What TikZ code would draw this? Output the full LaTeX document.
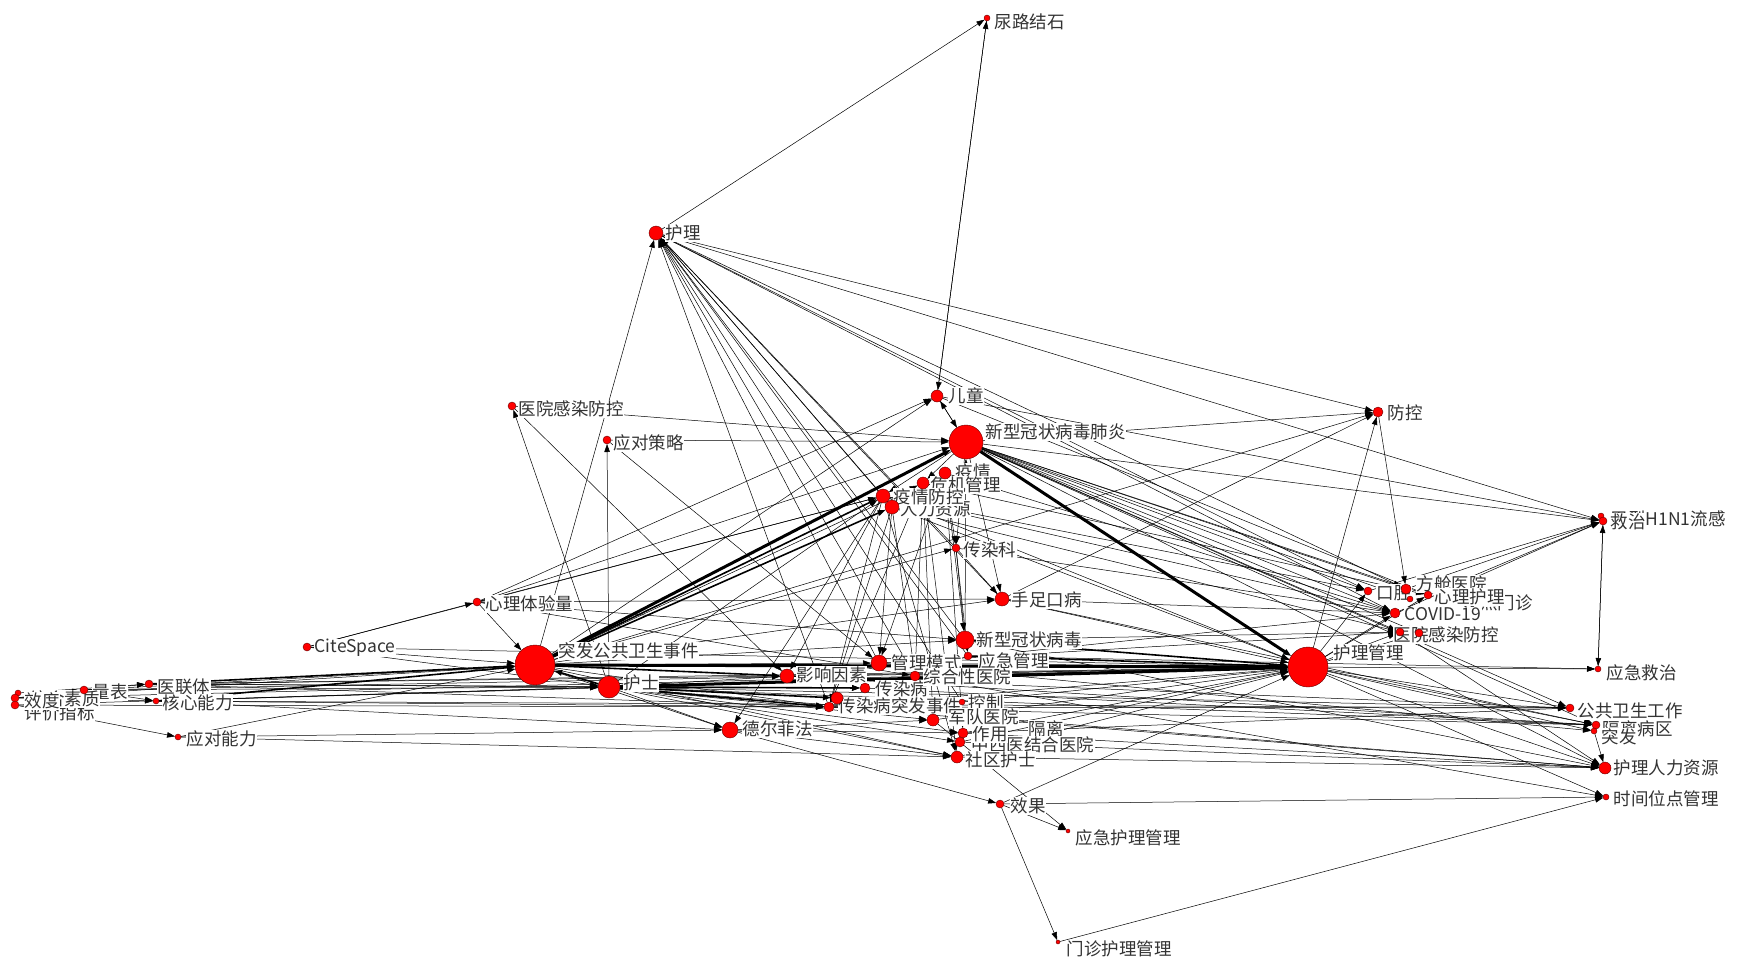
\documentclass[tikz,border=0pt]{standalone}
\usepackage{fontspec}
\setmainfont{Noto Sans CJK SC}
\usetikzlibrary{arrows.meta}
\tikzset{
  v/.style={circle,inner sep=0pt,outer sep=0pt,minimum size=#1},
  ed/.style={-{Triangle[length=8pt,width=5.5pt]},line width=0.5pt,black},
  edb/.style={ed,line width=1.6pt},
  edbb/.style={ed,line width=3pt},
  lab/.style={anchor=west,fill=white,inner sep=0.6pt,text=black!80,font=\fontsize{17.5}{19}\selectfont},
  dotc/.style={fill=red,draw=red!40!black,line width=0.4pt}
}
\begin{document}
\begin{tikzpicture}[x=1pt,y=-1pt]
\fill[white] (0,0) rectangle (1738,969);
\useasboundingbox (0,0) rectangle (1738,969);
% nodes (positions)
\node[v=6pt]  (n1)  at (987,18) {};
\node[v=14pt] (n2)  at (656,233) {};
\node[v=12pt] (n3)  at (937,396) {};
\node[v=34pt] (n4)  at (966,442) {};
\node[v=10pt] (n5)  at (1378,412) {};
\node[v=8pt]  (n6)  at (512,406) {};
\node[v=8pt]  (n7)  at (607,440) {};
\node[v=12pt] (n8)  at (945,473) {};
\node[v=12pt] (n9)  at (923,483) {};
\node[v=14pt] (n10) at (883,496) {};
\node[v=14pt] (n11) at (892,507) {};
\node[v=8pt]  (n12) at (956,548) {};
\node[v=14pt] (n13) at (1002,599) {};
\node[v=18pt] (n14) at (965,640) {};
\node[v=8pt]  (n15) at (477,602) {};
\node[v=8pt]  (n16) at (307,647) {};
\node[v=40pt] (n17) at (535,665) {};
\node[v=22pt] (n18) at (609,687) {};
\node[v=14pt] (n19) at (787,676) {};
\node[v=16pt] (n20) at (879,663) {};
\node[v=8pt]  (n21) at (968,656) {};
\node[v=10pt] (n22) at (915,676) {};
\node[v=10pt] (n23) at (865,688) {};
\node[v=12pt] (n24) at (837,698) {};
\node[v=10pt] (n25) at (829,707) {};
\node[v=6pt]  (n26) at (962,702) {};
\node[v=12pt] (n27) at (933,720) {};
\node[v=10pt] (n28) at (963,733) {};
\node[v=10pt] (n29) at (960,742) {};
\node[v=12pt] (n30) at (957,757) {};
\node[v=16pt] (n31) at (730,730) {};
\node[v=8pt]  (n32) at (149,684) {};
\node[v=8pt]  (n33) at (84,690) {};
\node[v=6pt]  (n34) at (156,701) {};
\node[v=8pt]  (n35a) at (15,698) {};
\node[v=8pt]  (n35b) at (15,705) {};
\node[v=6pt]  (n35c) at (18,693) {};
\node[v=6pt]  (n36) at (178,737) {};
\node[v=40pt] (n37) at (1308,667) {};
\node[v=8pt]  (n38) at (1368,591) {};
\node[v=10pt] (n39) at (1406,589) {};
\node[v=6pt]  (n40) at (1410,599) {};
\node[v=8pt]  (n41) at (1428,595) {};
\node[v=10pt] (n42) at (1395,613) {};
\node[v=8pt]  (n43) at (1400,632) {};
\node[v=8pt]  (n44) at (1419,633) {};
\node[v=8pt]  (n45) at (1603,521) {};
\node[v=6pt]  (n45b) at (1601,516) {};
\node[v=6pt]  (n46) at (1598,669) {};
\node[v=8pt]  (n47) at (1570,708) {};
\node[v=8pt]  (n48) at (1596,725) {};
\node[v=6pt]  (n49) at (1594,731) {};
\node[v=12pt] (n50) at (1605,768) {};
\node[v=6pt]  (n51) at (1606,797) {};
\node[v=8pt]  (n52) at (1000,804) {};
\node[v=4pt]  (n53) at (1068,831) {};
\node[v=4pt]  (n54) at (1058,942) {};
% thin edges
\foreach \a/\b in {n2/n1,n3/n1,n1/n3,
 n2/n5,n2/n45,n2/n38,n2/n42,n2/n39,
 n17/n2,n10/n2,n11/n2,n12/n2,n14/n2,n20/n2,n22/n2,n13/n2,n25/n2,n21/n2,n26/n2,
 n18/n6,n6/n19,n6/n4,n18/n7,n7/n4,n7/n20,
 n16/n15,n16/n17,n16/n18,n16/n37,n16/n10,
 n15/n17,n15/n3,n15/n10,n15/n4,n15/n13,n15/n22,n15/n14,
 n17/n3,n17/n5,n17/n12,n17/n13,n17/n14,n17/n31,n17/n30,n17/n9,n17/n25,n17/n20,
 n18/n31,n18/n30,n18/n28,n18/n19,n18/n47,n18/n48,n18/n50,n18/n27,n18/n29,n18/n10,
 n32/n18,n32/n37,n32/n25,n32/n19,n32/n23,
 n33/n32,n33/n34,n33/n17,n33/n18,n33/n37,
 n34/n18,n34/n37,n34/n25,n34/n31,n34/n47,
 n35a/n33,n35a/n34,n35b/n36,n35a/n17,n35b/n18,n35a/n37,n35b/n25,n35c/n32,
 n36/n31,n36/n17,n36/n30,
 n3/n4,n4/n3,
 n4/n5,n4/n45,n4/n38,n4/n39,n4/n41,n4/n42,n4/n43,n4/n44,n4/n48,n4/n50,n4/n47,n4/n40,
 n3/n45,n3/n41,
 n8/n14,n9/n22,n10/n19,n11/n20,n11/n25,n9/n27,n8/n28,n10/n30,n12/n13,n12/n14,n14/n4,n10/n31,
 n8/n20,n9/n25,n11/n22,n12/n21,n8/n12,n10/n25,n9/n30,n4/n13,n4/n12,n4/n10,n4/n9,
 n13/n5,n13/n37,n13/n42,n14/n43,n19/n37,n20/n37,n22/n37,n25/n37,n27/n37,n28/n37,
 n30/n37,n26/n37,n29/n37,
 n52/n37,n52/n51,n52/n54,n52/n53,n31/n52,n54/n51,n27/n53,n31/n30,n31/n28,n31/n27,
 n30/n50,n29/n50,n28/n50,n28/n47,
 n37/n38,n37/n42,n37/n43,n37/n41,n37/n46,n37/n47,n37/n48,n37/n49,n37/n50,n37/n51,n37/n5,n37/n44,
 n38/n45,n39/n45,n41/n45,n42/n45,n45/n46,n46/n45,n5/n39,n43/n50,n49/n50,
 n10/n42,n10/n38,n11/n43,n9/n41,n8/n42,n12/n42,n19/n42,n20/n43,
 n10/n37,n11/n37,
 n19/n47,n19/n48,n25/n47,n25/n48,n25/n50,n23/n48,n22/n51,n14/n50,n13/n48,n20/n49,n21/n46}
  \draw[ed] (\a) -- (\b);
% medium bundles
\foreach \a/\b in {n18/n17,n18/n25,n18/n24,n18/n23,n17/n19,n17/n10,n17/n11,n32/n17,n34/n17,n14/n37,n21/n37}
  \draw[edb] (\a) -- (\b);
% heavy bundles
\foreach \a/\b in {n17/n37,n18/n37,n4/n37,n17/n4}
  \draw[edbb] (\a) -- (\b);
% labels
\node[lab] (l1)  at (994,22) {尿路结石};
\node[lab] (l2)  at (665,233) {护理};
\node[lab] (l3)  at (948,396) {儿童};
\node[lab] (l4)  at (985,432) {新型冠状病毒肺炎};
\node[lab] (l5)  at (1387,413) {防控};
\node[lab] (l6)  at (518,409) {医院感染防控};
\node[lab] (l7)  at (613,443) {应对策略};
\node[lab] (l8)  at (955,472) {疫情};
\node[lab] (l9)  at (930,485) {危机管理};
\node[lab] (l11) at (900,509) {人力资源};
\node[lab] (l10) at (893,497) {疫情防控};
\node[lab] (l12) at (963,550) {传染科};
\node[lab] (l13) at (1011,600) {手足口病};
\node[lab] (l16) at (314,648) {CiteSpace};
\node[lab] (l15) at (485,604) {心理体验量};
\node[lab] (l17) at (558,651) {突发公共卫生事件};
\node[lab] (l18) at (623,683) {护士};
\node[lab] (l21) at (978,661) {应急管理};
\node[lab] (l14) at (976,640) {新型冠状病毒};
\node[lab] (l20) at (891,663) {管理模式};
\node[lab] (l19) at (796,675) {影响因素};
\node[lab] (l23) at (875,689) {传染病};
\node[lab] (l22) at (923,677) {综合性医院};
\node[lab] (l26) at (968,703) {控制};
\node[lab] (l25) at (838,706) {传染病突发事件};
\node[lab] (t1)  at (1028,729) {隔离};
\node[lab] (l29) at (971,745) {中西医结合医院};
\node[lab] (l28) at (972,734) {作用};
\node[lab] (l27) at (948,717) {军队医院};
\node[lab] (l30) at (965,760) {社区护士};
\node[lab] (l31) at (742,729) {德尔菲法};
\node[lab] (l32) at (157,687) {医联体};
\node[lab] (l33) at (92,692) {量表};
\node[lab] (l34) at (162,703) {核心能力};
\node[lab] (l35b) at (24,713) {评价指标};
\node[lab] (l35c) at (29,699) {综合素质};
\node[lab] (l35a) at (24,701) {效度};
\node[lab] (l36) at (186,739) {应对能力};
\node[lab] (l37) at (1333,653) {护理管理};
\node[lab] (l39) at (1416,584) {方舱医院};
\node[lab] (l40) at (1462,603) {发热门诊};
\node[lab] (l38) at (1376,593) {口腔};
\node[lab] (l41) at (1434,597) {心理护理};
\node[lab] (l42) at (1404,614) {COVID-19};
\node[lab] (l43) at (1393,635) {医院感染防控};
\node[lab] (l44) at (1428,635) {感染防控};
\node[lab] (l45b) at (1610,519) {甲型H1N1流感};
\node[lab] (l45) at (1610,522) {救治};
\node[lab] (l46) at (1606,673) {应急救治};
\node[lab] (l47) at (1577,711) {公共卫生工作};
\node[lab] (l48) at (1602,729) {隔离病区};
\node[lab] (l49) at (1601,737) {突发};
\node[lab] (l50) at (1613,768) {护理人力资源};
\node[lab] (l51) at (1613,799) {时间位点管理};
\node[lab] (l52) at (1010,806) {效果};
\node[lab] (l53) at (1075,838) {应急护理管理};
\node[lab] (l54) at (1066,949) {门诊护理管理};
% dots on top
\foreach \n/\r in {n1/3,n2/7,n3/6,n4/17,n5/5,n6/4,n7/4,n8/6,n9/6,n10/7,n11/7,n12/4,n13/7,n14/9,
 n15/4,n16/4,n17/20,n18/11,n19/7,n20/8,n21/4,n22/5,n23/5,n24/6,n25/5,n26/3,n27/6,n28/5,n29/5,n30/6,
 n31/8,n32/4,n33/4,n34/3,n35c/3,n35a/4,n35b/4,n36/3,n37/20,n38/4,n39/5,n40/3,n41/4,n42/5,n43/4,n44/4,
 n45b/3,n45/4,n46/3,n47/4,n48/4,n49/3,n50/6,n51/3,n52/4,n53/2,n54/2}
  \path[dotc] (\n) circle (\r);
\end{tikzpicture}
\end{document}
